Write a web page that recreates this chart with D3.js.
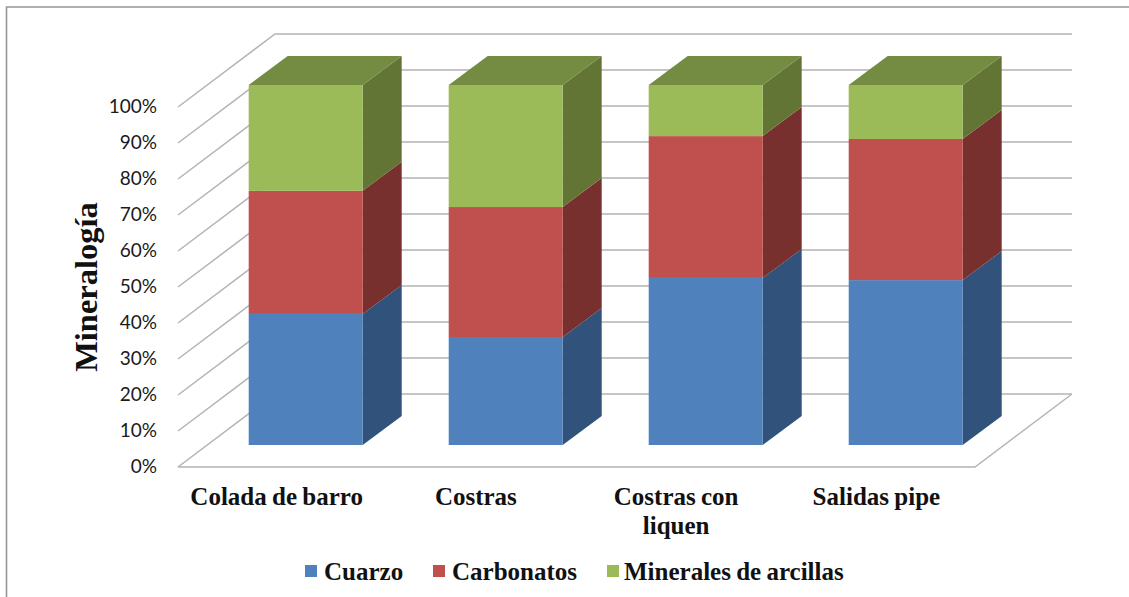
<!DOCTYPE html>
<html>
<head>
<meta charset="utf-8">
<script src="https://cdn.jsdelivr.net/npm/d3@7"></script>
<style>
  html, body { margin: 0; padding: 0; background: #fff; overflow: hidden; }
  .tick-label { font-family: Lato, "Open Sans", sans-serif; font-size: 19px; fill: #1a1a1a; }
  .serif-label { font-family: "Liberation Serif", serif; font-weight: bold; fill: #111; word-spacing: -1px; }
</style>
</head>
<body>
<div id="chart"></div>
<script>
// Data
const categories = ["Colada de barro", "Costras", "Costras con liquen", "Salidas pipe"];
const cuarzo = [36.4, 30.0, 46.4, 45.8];
const carbonatos = [34.2, 36.1, 39.4, 39.2];
const minerales = [29.4, 33.9, 14.2, 15.0];
const seriesNames = ["Cuarzo", "Carbonatos", "Minerales de arcillas"];
const yTicks = [0, 10, 20, 30, 40, 50, 60, 70, 80, 90, 100];

const frontColors = ["#4f81bd", "#c0504d", "#9bbb59"];
const sideColors = ["#31527b", "#78302e", "#637534"];
const topColor = "#748b42";

const width = 1129, height = 597;

let svg = d3.select("#chart").append("svg").attr("width", width).attr("height", height);

// Frame (only top and left edges are visible)
svg.append("path")
  .attr("d", "M6.5,597V7H1129")
  .attr("fill", "none").attr("stroke", "#979797").attr("stroke-width", 1.6);

// Scales: the wall scale is the floor front edge, the bar scale is the bar front face
let x = d3.scaleBand().domain(categories).range([178, 975]);
let xBar = d3.scaleBand().domain(categories).range([248.7, 1048.7]);
let yWall = d3.scaleLinear().domain([0, 100]).range([467, 107]);
let yBar = d3.scaleLinear().domain([0, 100]).range([445, 85]);

const wallDx = 97, wallDy = 73;
const barDx = 39, barDy = 29;
const barWidth = 114;
const barLeft = d => xBar(d);

// Gridlines: side wall plus back wall
let grid = svg.append("g").attr("fill", "none").attr("stroke", "#b4b4b4").attr("stroke-width", 1.5);
grid.selectAll("path")
  .data(yTicks)
  .enter()
  .append("path")
  .attr("d", d => `M${x.range()[0]},${yWall(d)}L${x.range()[0] + wallDx},${yWall(d) - wallDy}H${x.range()[1] + wallDx}`);

// Floor front edge and right side
grid.append("path")
  .attr("d", `M${x.range()[0]},${yWall(0)}H${x.range()[1]}L${x.range()[1] + wallDx},${yWall(0) - wallDy}`);

// Stack the series
let rows = categories.map((c, i) => ({ category: c, s0: cuarzo[i], s1: carbonatos[i], s2: minerales[i] }));
let stacked = d3.stack().keys(["s0", "s1", "s2"])(rows);

let bars = svg.append("g");
stacked.forEach((layer, k) => {
  // side face
  bars.append("g").selectAll("path")
    .data(layer)
    .enter()
    .append("path")
    .attr("fill", sideColors[k])
    .attr("d", d => {
      let r = barLeft(d.data.category) + barWidth;
      return `M${r},${yBar(d[0])}L${r + barDx},${yBar(d[0]) - barDy}V${yBar(d[1]) - barDy}L${r},${yBar(d[1])}Z`;
    });
  // front face
  bars.append("g").selectAll("rect")
    .data(layer)
    .enter()
    .append("rect")
    .attr("fill", frontColors[k])
    .attr("x", d => barLeft(d.data.category))
    .attr("y", d => yBar(d[1]))
    .attr("width", barWidth)
    .attr("height", d => yBar(d[0]) - yBar(d[1]));
});

// Top face of the bars
bars.append("g").selectAll("path")
  .data(stacked[2])
  .enter()
  .append("path")
  .attr("fill", topColor)
  .attr("d", d => {
    let l = barLeft(d.data.category), t = yBar(d[1]);
    return `M${l},${t}L${l + barDx},${t - barDy}H${l + barDx + barWidth}L${l + barWidth},${t}Z`;
  });

// Y axis labels
svg.append("g").selectAll("text")
  .data(yTicks)
  .enter()
  .append("text")
  .attr("class", "tick-label")
  .attr("text-anchor", "end")
  .attr("x", 157)
  .attr("y", d => yWall(d) + 6)
  .text(d => d + "%");

// Axis title
svg.append("text")
  .attr("class", "serif-label")
  .attr("transform", "translate(97,287) rotate(-90)")
  .attr("text-anchor", "middle")
  .style("font-size", "32.5px")
  .text("Mineralogía");

// Category labels, "Costras con liquen" wraps on two lines
let catLines = { "Costras con liquen": ["Costras con", "liquen"] };
let catOffset = [-1, -1, 0, 1];
let catLabels = svg.append("g").selectAll("text")
  .data(categories)
  .enter()
  .append("text")
  .attr("class", "serif-label")
  .attr("text-anchor", "middle")
  .style("font-size", "25px");
catLabels.selectAll("tspan")
  .data((d, i) => (catLines[d] || [d]).map(t => ({ t, c: d, off: catOffset[i] })))
  .enter()
  .append("tspan")
  .attr("x", d => x(d.c) + x.bandwidth() / 2 + d.off)
  .attr("y", (d, i) => 505 + i * 29)
  .text(d => d.t);

// Legend
const legendSwatchX = [305, 433, 607];
const legendTextX = [324, 452, 624];
let legend = svg.append("g");
legend.selectAll("rect")
  .data(seriesNames)
  .enter()
  .append("rect")
  .attr("x", (d, i) => legendSwatchX[i])
  .attr("y", 565)
  .attr("width", 12)
  .attr("height", 12)
  .attr("fill", (d, i) => frontColors[i]);
legend.selectAll("text")
  .data(seriesNames)
  .enter()
  .append("text")
  .attr("class", "serif-label")
  .attr("x", (d, i) => legendTextX[i])
  .attr("y", 580)
  .style("font-size", "25px")
  .text(d => d);
</script>
</body>
</html>
